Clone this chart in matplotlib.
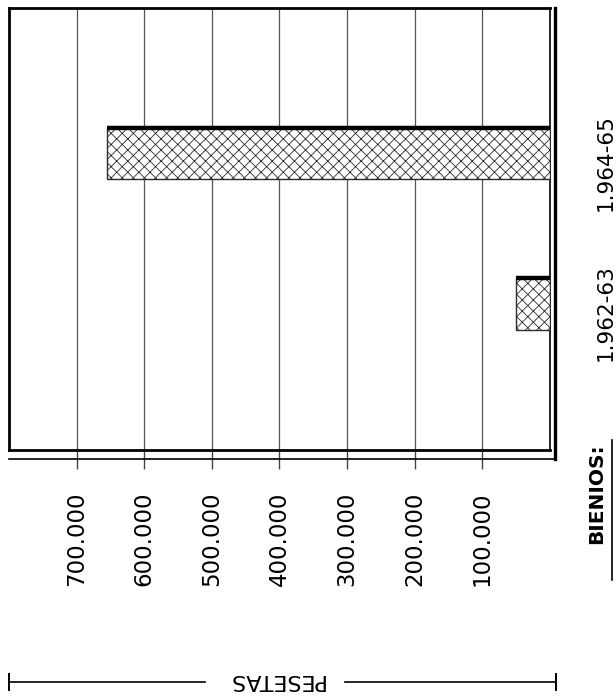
import matplotlib
matplotlib.use('Agg')
import matplotlib.pyplot as plt
from matplotlib.lines import Line2D
from matplotlib.transforms import ScaledTranslation

# bienios y pesetas (grafico girado)
bienios = ['1.962-63', '1.964-65']
posiciones = [1, 2]
pesetas = [50000, 655000]
ticks = [100000, 200000, 300000, 400000, 500000, 600000, 700000]
ticks_txt = ['100.000', '200.000', '300.000', '400.000', '500.000', '600.000', '700.000']

W, H = 616, 697
plt.rcParams['font.family'] = ['DejaVu Sans']
plt.rcParams['hatch.linewidth'] = 0.6

fig = plt.figure(figsize=(W / 100, H / 100), dpi=100)
ax = fig.add_axes([9 / W, 1 - 450 / H, (550 - 9) / W, (450 - 8) / H])

barras = ax.barh(posiciones, pesetas, height=0.345, color='white',
                 edgecolor='#2a2a2a', linewidth=1.0, hatch='xxx', zorder=3)
# borde grueso arriba de cada barra
for p, v in zip(posiciones, pesetas):
    ax.hlines(p + 0.345 / 2, 0, v, color='black', linewidth=3.2, zorder=4)

ax.set_xlim(800000, 0)
ax.set_ylim(0.03, 2.967)
ax.set_xticks(ticks)
ax.set_xticklabels(ticks_txt, rotation=90, fontsize=16.5, va='top')
ax.tick_params(axis='x', direction='out', length=14, width=1.0, pad=16, color='#444')
ax.grid(axis='x', color='#555', linewidth=0.9)
ax.set_axisbelow(True)

ax.set_yticks(posiciones)
ax.set_yticklabels(bienios, rotation=90, fontsize=15.5, va='center')
ax.yaxis.tick_right()
ax.tick_params(axis='y', length=0, pad=33)
for lab in ax.get_yticklabels():
    lab.set_transform(lab.get_transform() + ScaledTranslation(0, -0.09, fig.dpi_scale_trans))

ax.spines['top'].set_linewidth(2.0)
ax.spines['left'].set_linewidth(2.0)
ax.spines['bottom'].set_linewidth(2.0)
ax.spines['right'].set_linewidth(1.2)

# marco exterior (derecha y abajo)
def linea(xs, ys, lw):
    fig.add_artist(Line2D([x / W for x in xs], [1 - y / H for y in ys],
                          color='black', linewidth=lw, transform=fig.transFigure))

linea([555, 555], [8, 459], 2.4)
linea([9, 555], [459, 459], 1.2)

# BIENIOS:
fig.text(597 / W, 1 - 494 / H, 'BIENIOS:', rotation=90, fontsize=14.5,
         fontweight='bold', ha='center', va='center')
linea([612, 612], [440, 580], 1.2)

# PESETAS con flecha de cotas
fig.text(275 / W, 1 - 680 / H, 'PESETAS', rotation=180, fontsize=16,
         ha='center', va='center')
linea([9, 205], [682, 682], 1.2)
linea([345, 556], [682, 682], 1.2)
linea([9, 9], [674, 690], 1.4)
linea([556, 556], [674, 690], 1.4)

fig.savefig('out.png', dpi=100)
